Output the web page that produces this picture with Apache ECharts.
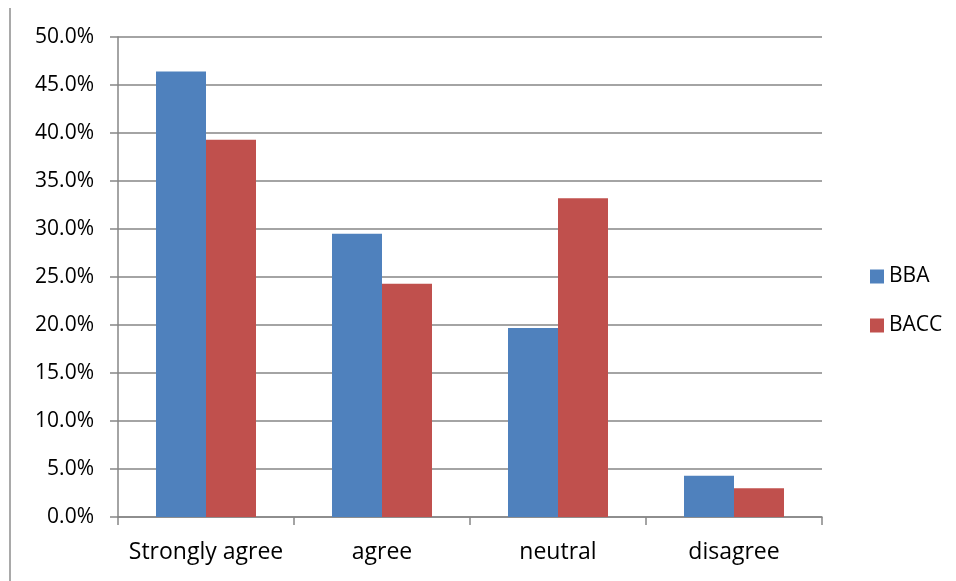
<!DOCTYPE html>
<html>
<head>
<meta charset="utf-8">
<script src="https://cdn.jsdelivr.net/npm/echarts@6/dist/echarts.min.js"></script>
<style>
  html, body { margin: 0; padding: 0; background: #fff; }
  #chart { width: 956px; height: 581px; }
</style>
</head>
<body>
<div id="chart"></div>
<script>
// Survey responses by programme (share of respondents)
const categories = ['Strongly agree', 'agree', 'neutral', 'disagree'];
const seriesNames = ['BBA', 'BACC'];
const bbaValues = [0.464, 0.295, 0.197, 0.043];
const baccValues = [0.393, 0.243, 0.332, 0.030];
const yTicks = { min: 0, max: 0.5, interval: 0.05 };

const gridColor = '#868686';
const font = '"Open Sans", "Liberation Sans", sans-serif';

const chart = echarts.init(document.getElementById('chart'), null, { renderer: 'canvas' });

chart.setOption({
  backgroundColor: '#ffffff',
  animation: false,
  grid: { left: 118, right: 134, top: 37, bottom: 64, containLabel: false },
  legend: {
    orient: 'vertical',
    left: 865,
    top: 261,
    itemWidth: 14,
    itemHeight: 14,
    itemGap: 28,
    icon: 'rect',
    data: seriesNames,
    textStyle: { fontFamily: font, fontSize: 21, color: '#000', lineHeight: 20, padding: [0, 0, 0, 0] }
  },
  xAxis: {
    type: 'category',
    data: categories,
    axisLine: { lineStyle: { color: gridColor, width: 1.5 } },
    axisTick: { show: true, interval: 0, length: 8, lineStyle: { color: gridColor, width: 1.5 } },
    axisLabel: { interval: 0, hideOverlap: false, fontFamily: font, fontSize: 23, color: '#000', margin: 24 },
    splitLine: { show: false }
  },
  yAxis: {
    type: 'value',
    min: yTicks.min,
    max: yTicks.max,
    interval: yTicks.interval,
    axisLine: { show: true, lineStyle: { color: gridColor, width: 1.5 } },
    axisTick: { show: true, length: 8, lineStyle: { color: gridColor, width: 1.5 } },
    axisLabel: {
      fontFamily: font, fontSize: 21, color: '#000', margin: 24,
      formatter: v => (v * 100).toFixed(1) + '%'
    },
    splitLine: { show: true, lineStyle: { color: gridColor, width: 1.5 } }
  },
  series: [
    {
      name: seriesNames[0], type: 'bar', data: bbaValues,
      barWidth: 50, barGap: '0%',
      itemStyle: { color: '#4F81BD' }
    },
    {
      name: seriesNames[1], type: 'bar', data: baccValues,
      barWidth: 50, barGap: '0%',
      itemStyle: { color: '#C0504D' }
    }
  ],
  graphic: [
    {
      type: 'line',
      shape: { x1: 10, y1: 8, x2: 10, y2: 581 },
      style: { stroke: '#8c8c8c', lineWidth: 1.5 }
    }
  ]
});
</script>
</body>
</html>
